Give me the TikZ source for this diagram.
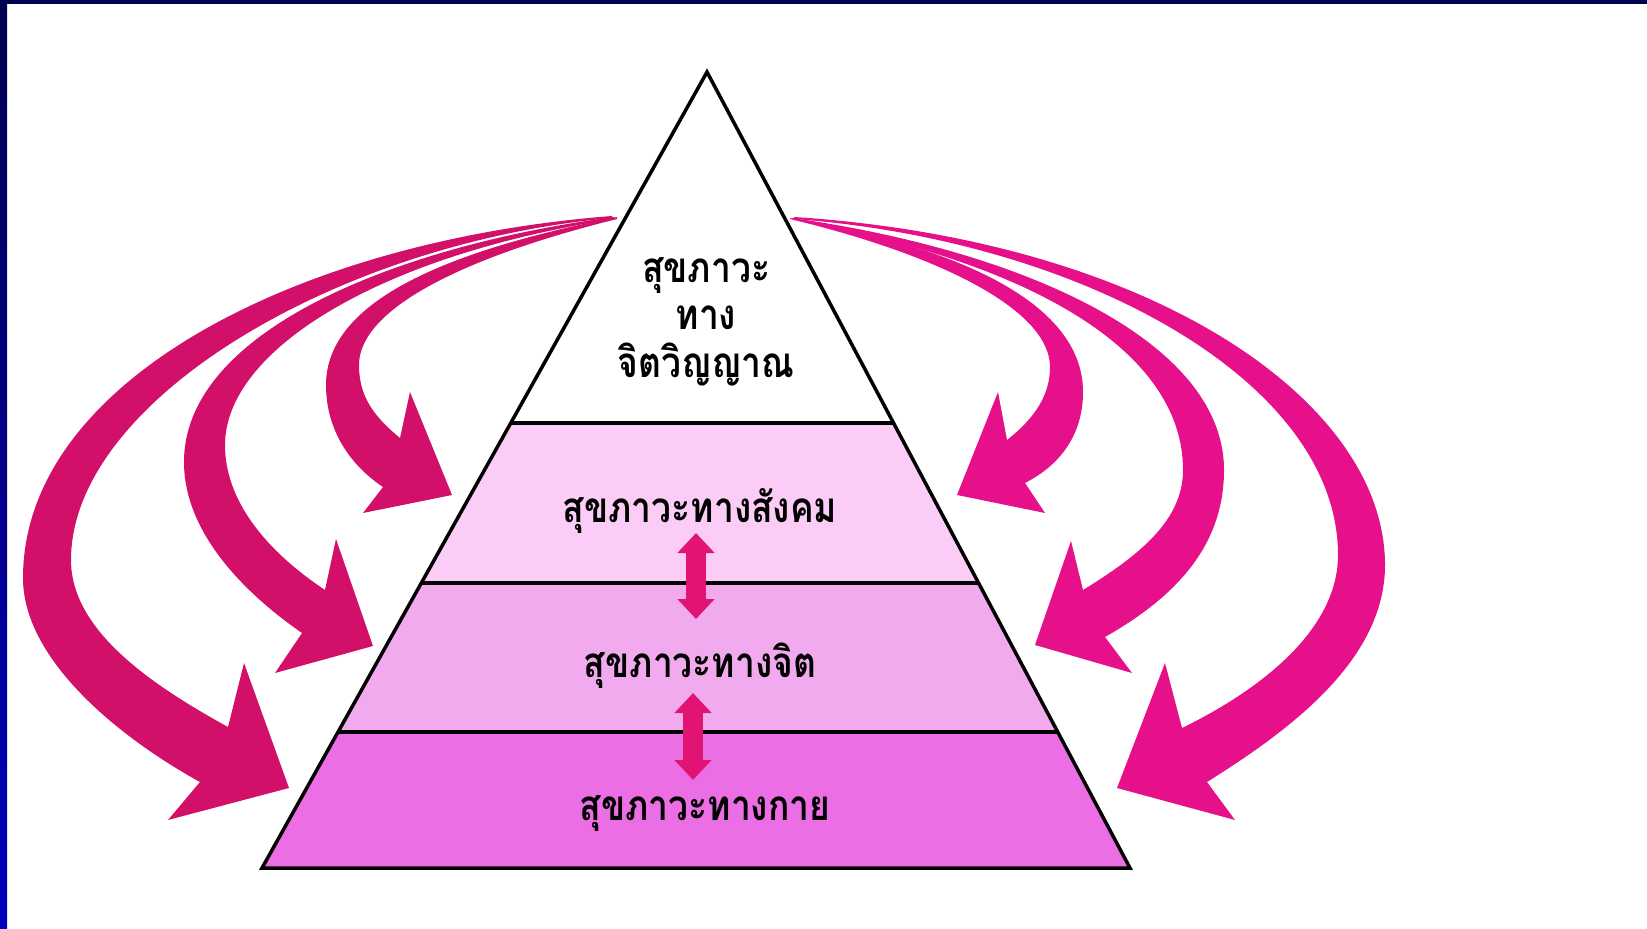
\documentclass[tikz,border=0pt]{standalone}
\usepackage{fontspec}
\newfontfamily\thaifont[Script=Thai, FakeStretch=0.84]{Loma}
\usetikzlibrary{calc}
\usetikzlibrary{arrows.meta}

\begin{document}
\begin{tikzpicture}[x=0.1mm,y=-0.1mm,
  pyrlabel/.style={font=\thaifont\bfseries\fontsize{12}{13.5}\selectfont, align=center, inner sep=0pt, anchor=base},
  layerline/.style={line width=0.35mm},
  linkarrow/.style={line width=2mm, {Triangle[length=2mm,width=3.6mm]}-{Triangle[length=2mm,width=3.6mm]}},
  swoosh/.style={line join=round}]

\useasboundingbox (0,0) rectangle (1647,929);

% Drawing frame
\definecolor{r0g0b80}{RGB}{0,0,80}%
\definecolor{r0g0b190}{RGB}{0,0,190}%
\shade[top color=r0g0b80, bottom color=r0g0b190] (0,0) rectangle (7,929);%
\fill[r0g0b80] (0,0) rectangle (1647,4);%

% Drawing pyramid layers
\definecolor{r250g204b246}{RGB}{250,204,246}%
\definecolor{r242g170b238}{RGB}{242,170,238}%
\definecolor{r236g110b228}{RGB}{236,110,228}%
\coordinate (apex) at (707,72);
\coordinate (bl) at (262,868);
\coordinate (br) at (1130,868);
\coordinate (sl) at ($(apex)!0.4410!(bl)$);
\coordinate (sr) at ($(apex)!0.4410!(br)$);
\coordinate (ml) at ($(apex)!0.6420!(bl)$);
\coordinate (mr) at ($(apex)!0.6420!(br)$);
\coordinate (pl) at ($(apex)!0.8291!(bl)$);
\coordinate (pr) at ($(apex)!0.8291!(br)$);
\fill[r250g204b246] (sl) -- (sr) -- (mr) -- (ml) -- cycle;%
\fill[r242g170b238] (ml) -- (mr) -- (pr) -- (pl) -- cycle;%
\fill[r236g110b228] (pl) -- (pr) -- (br) -- (bl) -- cycle;%
\draw[layerline] (apex) -- (br) -- (bl) -- cycle;%
\draw[layerline] (sl) -- (sr);%
\draw[layerline] (ml) -- (mr);%
\draw[layerline] (pl) -- (pr);%

% Drawing labels
\node[pyrlabel] (spirit) at (706,377) {สุขภาวะ\\ทาง\\จิตวิญญาณ};
\node[pyrlabel] (social) at (700,522) {สุขภาวะทางสังคม};
\node[pyrlabel] (mind) at (700,677) {สุขภาวะทางจิต};
\node[pyrlabel] (body) at (705,820) {สุขภาวะทางกาย};

% Drawing links between layers
\definecolor{r225g20b115}{RGB}{225,20,115}%
\coordinate (link1a) at (696,533);
\coordinate (link1b) at (696,619);
\coordinate (link2a) at (693,693);
\coordinate (link2b) at (693,780);
\draw[linkarrow, r225g20b115] (link1a) -- (link1b);%
\draw[linkarrow, r225g20b115] (link2a) -- (link2b);%

% Drawing left arrows
\definecolor{r210g16b106}{RGB}{210,16,106}%
\fill[swoosh, r210g16b106] (617,217) .. controls (450,250) and (326,300) .. (326,385)
  .. controls (326,430) and (350,465) .. (383,487) -- (363,513) -- (452,495) -- (410,392) -- (400,438)
  .. controls (372,415) and (359,395) .. (359,365) .. controls (359,310) and (460,258) .. (617,219) -- cycle;%
\fill[swoosh, r210g16b106] (614,217) .. controls (400,245) and (184,330) .. (184,462)
  .. controls (184,530) and (240,590) .. (302,633) -- (275,673) -- (373,646) -- (336,539) -- (325,590)
  .. controls (265,550) and (225,500) .. (225,445) .. controls (225,350) and (380,255) .. (614,219) -- cycle;%
\fill[swoosh, r210g16b106] (612,216) .. controls (300,240) and (23,380) .. (23,578)
  .. controls (23,660) and (120,738) .. (200,782) -- (168,820) -- (289,788) -- (244,663) -- (228,727)
  .. controls (150,684) and (71,630) .. (71,560) .. controls (71,400) and (340,242) .. (612,218) -- cycle;%

% Drawing right arrows
\definecolor{r230g16b138}{RGB}{230,16,138}%
\fill[swoosh, r230g16b138] (790,218) .. controls (950,245) and (1083,300) .. (1083,392)
  .. controls (1083,435) and (1060,465) .. (1025,483) -- (1045,513) -- (957,495) -- (998,392) -- (1007,440)
  .. controls (1035,418) and (1050,395) .. (1050,367) .. controls (1050,310) and (940,255) .. (790,219) -- cycle;%
\fill[swoosh, r230g16b138] (792,218) .. controls (1020,250) and (1224,340) .. (1224,470)
  .. controls (1224,550) and (1170,600) .. (1105,637) -- (1132,673) -- (1035,645) -- (1071,541) -- (1083,590)
  .. controls (1140,555) and (1183,520) .. (1183,470) .. controls (1183,350) and (1030,262) .. (792,219) -- cycle;%
\fill[swoosh, r230g16b138] (794,217) .. controls (1150,240) and (1385,400) .. (1385,565)
  .. controls (1385,660) and (1290,730) .. (1207,782) -- (1235,820) -- (1117,788) -- (1165,663) -- (1182,728)
  .. controls (1260,690) and (1338,630) .. (1338,555) .. controls (1338,380) and (1080,240) .. (794,219) -- cycle;%
\end{tikzpicture}
\end{document}
